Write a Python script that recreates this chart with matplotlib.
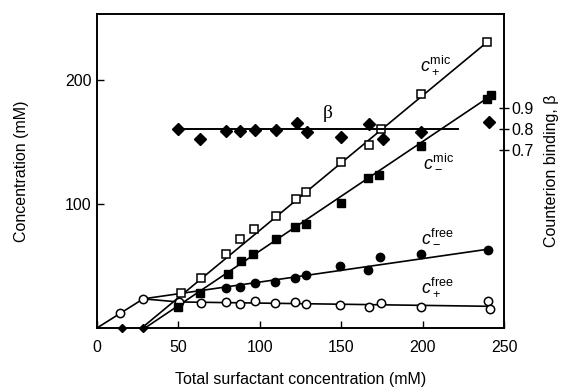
#!/usr/bin/env python3
"""
Micellar / free ion concentrations and counterion binding vs total surfactant.
"""
import matplotlib
matplotlib.use("Agg")
import matplotlib.pyplot as plt

plt.rcParams["font.family"] = ["Liberation Sans", "DejaVu Sans"]
plt.rcParams["mathtext.fontset"] = "custom"
plt.rcParams["mathtext.rm"] = "Liberation Sans"
plt.rcParams["mathtext.it"] = "Liberation Sans:italic"

# c+ free (open circles)
cp_free_x = [14.1, 28.4, 50.4, 63.7, 79.5, 87.6, 96.8, 109.5, 121.9, 128.5,
             149.5, 166.9, 174.2, 199.1, 240.4, 241.2]
cp_free_y = [12.3, 23.5, 20.7, 19.9, 20.7, 19.1, 21.8, 19.9, 20.7, 19.5,
             18.5, 16.7, 19.9, 17.2, 22.0, 15.6]

# c- free (filled circles)
cm_free_x = [79.0, 87.6, 96.8, 109.5, 121.9, 128.5, 149.2, 166.3, 174.0, 199.0, 240.0]
cm_free_y = [32.0, 32.8, 36.0, 36.8, 40.0, 42.7, 50.0, 46.8, 57.5, 59.7, 63.0]

# c+ mic (open squares)
cp_mic_x = [51.9, 63.7, 79.5, 87.6, 96.6, 109.8, 122.3, 128.5, 149.7, 167.3,
            174.4, 198.9, 239.4]
cp_mic_y = [28.0, 40.0, 59.5, 71.5, 79.6, 90.0, 103.8, 110.0, 134.0, 147.6,
            160.2, 188.7, 231.0]

# c- mic (filled squares)
cm_mic_x = [49.8, 63.1, 80.5, 88.2, 96.1, 109.8, 121.9, 128.3, 149.9, 166.2,
            173.4, 198.9, 239.8, 241.8]
cm_mic_y = [17.2, 28.5, 43.3, 54.2, 60.0, 71.6, 81.2, 83.8, 100.5, 120.7,
            123.4, 146.8, 184.5, 188.0]

# points below the cmc sitting on the axis
below_cmc_x = [15.1, 28.0]
below_cmc_y = [0.0, 0.0]

# counterion binding (filled diamonds, right axis)
beta_x = [49.8, 63.1, 79.5, 87.6, 97.2, 109.7, 122.7, 128.9, 149.9, 167.3,
          175.4, 198.9, 240.8]
beta_y = [0.799, 0.751, 0.792, 0.792, 0.795, 0.795, 0.827, 0.786, 0.760, 0.824,
          0.752, 0.787, 0.835]

# fitted lines
cp_free_fit_x = [0.0, 28.4, 50.0, 240.0]
cp_free_fit_y = [0.0, 23.5, 21.0, 17.5]
cm_free_fit_x = [28.4, 240.0]
cm_free_fit_y = [23.5, 63.5]
cp_mic_fit_x = [27.5, 241.0]
cp_mic_fit_y = [0.0, 232.0]
cm_mic_fit_x = [29.5, 241.0]
cm_mic_fit_y = [0.0, 186.5]
beta_fit_x = [49.8, 222.0]
beta_fit_y = [0.8, 0.8]

LW = 1.2
MS = 6

fig = plt.figure(figsize=(5.77, 3.92), dpi=100)
ax = fig.add_axes([0.1681, 0.1633, 0.7054, 0.801])
ax2 = ax.twinx()

ax.plot(cp_free_fit_x, cp_free_fit_y, "k-", lw=LW)
ax.plot(cm_free_fit_x, cm_free_fit_y, "k-", lw=LW)
ax.plot(cp_mic_fit_x, cp_mic_fit_y, "k-", lw=LW)
ax.plot(cm_mic_fit_x, cm_mic_fit_y, "k-", lw=LW)

ax.plot(cp_free_x, cp_free_y, "o", ms=MS, mfc="white", mec="black", mew=1.1)
ax.plot(cm_free_x, cm_free_y, "o", ms=MS, mfc="black", mec="black")
ax.plot(cp_mic_x, cp_mic_y, "s", ms=MS, mfc="white", mec="black", mew=1.1)
ax.plot(cm_mic_x, cm_mic_y, "s", ms=MS, mfc="black", mec="black")
ax.plot(below_cmc_x, below_cmc_y, "D", ms=4.5, mfc="black", mec="black", clip_on=False)

ax2.plot(beta_fit_x, beta_fit_y, "k-", lw=1.4)
ax2.plot(beta_x, beta_y, "D", ms=MS, mfc="black", mec="black")

ax.set_xlim(0, 250)
ax.set_ylim(0, 253.2)
ax2.set_ylim(-0.148, 1.348)

ax.set_xticks([0, 50, 100, 150, 200, 250])
ax.set_yticks([100, 200])
ax2.set_yticks([0.7, 0.8, 0.9])
ax2.set_yticklabels(["0.7", "0.8", "0.9"])

ax.tick_params(axis="both", direction="in", length=5, width=1.0, labelsize=11.5,
               top=False, right=False)
ax.tick_params(axis="x", pad=9)
ax.tick_params(axis="y", pad=4)
ax2.tick_params(axis="y", direction="inout", length=7, width=1.0, labelsize=11.5, pad=2)

for sp in ax.spines.values():
    sp.set_linewidth(1.2)
for sp in ax2.spines.values():
    sp.set_linewidth(1.2)

ax.set_xlabel("Total surfactant concentration (mM)", fontsize=11.5, labelpad=12)
ax.set_ylabel("Concentration (mM)", fontsize=11.5, labelpad=26)
ax2.set_ylabel("Counterion binding, β", fontsize=11.5, labelpad=7)

ax.text(208, 212, r"$c_+^{\rm mic}$", fontsize=13, ha="center", va="center")
ax.text(210, 134, r"$c_-^{\rm mic}$", fontsize=13, ha="center", va="center")
ax.text(209, 74, r"$c_-^{\rm free}$", fontsize=13, ha="center", va="center")
ax.text(209, 33, r"$c_+^{\rm free}$", fontsize=13, ha="center", va="center")
ax.text(141.5, 173, "β", fontsize=14, family=["Liberation Serif", "DejaVu Serif"],
        ha="center", va="center")

fig.savefig("out.png", dpi=100)
